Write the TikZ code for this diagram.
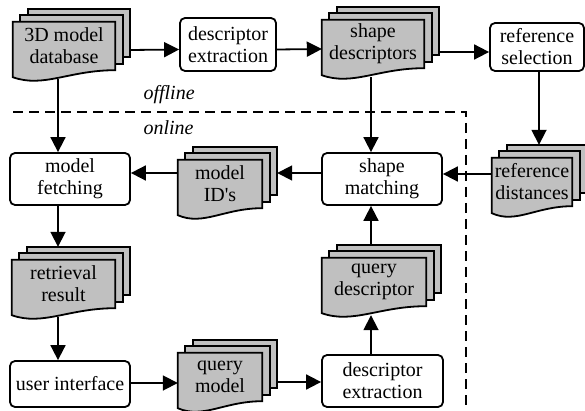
\documentclass[tikz,border=0pt]{standalone}
\usepackage{fontspec}
\setmainfont{Liberation Serif}
\usetikzlibrary{arrows.meta,calc,backgrounds}
\definecolor{pagegray}{RGB}{192,192,192}

\newcommand{\docstack}[4]{%
  \node[doc, minimum width=#3] (#1) at (#2) {#4};
  \coordinate (#1-back) at ([xshift=15pt]#1.east);
  \begin{scope}[on background layer]
    \draw[page] ([xshift=15pt,yshift=13pt]#1.south west) rectangle ([xshift=15pt,yshift=13pt]#1.north east);
    \draw[page] ([xshift=7.5pt,yshift=6.5pt]#1.south west) rectangle ([xshift=7.5pt,yshift=6.5pt]#1.north east);
    \draw[page] ([yshift=-7pt]#1.south west) -- (#1.north west) -- (#1.north east) -- (#1.south east)
      .. controls ($(#1.south west)!0.55!(#1.south east)$) and ($(#1.south west)!0.3!(#1.south east)+(0pt,-18pt)$) .. ([yshift=-7pt]#1.south west) -- cycle;
  \end{scope}}

\begin{document}
\begin{tikzpicture}[x=1pt,y=-1pt,
    every node/.style={font=\fontsize{20}{22}\selectfont},
    proc/.style={draw, line width=1.8pt, rounded corners=5pt, fill=white, align=center, inner sep=0pt},
    doc/.style={align=center, inner sep=0pt, minimum height=48pt},
    page/.style={draw, line width=1.8pt, fill=pagegray},
    arr/.style={line width=1.8pt, -{Triangle[length=15pt,width=15pt]}},
    phase/.style={font=\fontsize{20}{22}\selectfont\itshape, anchor=base west}]
\useasboundingbox (0,0) rectangle (585,411);

\node[proc, minimum width=96pt, minimum height=53pt] (descA) at (228,44.5) {descriptor\\extraction};
\node[proc, minimum width=94pt, minimum height=48pt] (refsel) at (537,47) {reference\\selection};
\node[proc, minimum width=120pt, minimum height=52pt] (match) at (382,179) {shape\\matching};
\node[proc, minimum width=120pt, minimum height=52pt] (fetch) at (70,179) {model\\fetching};
\node[proc, minimum width=120pt, minimum height=46pt] (ui) at (70,384) {user interface};
\node[proc, minimum width=121pt, minimum height=52pt] (descB) at (382.5,381) {descriptor\\extraction};

\docstack{db}{64,46}{102pt}{3D model\\database}
\docstack{sd}{373,44}{102pt}{shape\\descriptors}
\docstack{ids}{220,184}{84pt}{model\\ID\textquotesingle s}
\docstack{refd}{532,182}{80pt}{reference\\distances}
\docstack{rr}{63.5,284}{103pt}{retrieval\\result}
\docstack{qm}{220,377}{84pt}{query\\model}
\docstack{qd}{374,282}{104pt}{query\\descriptor}

\draw[line width=1.8pt, dash pattern=on 10pt off 6pt] (13,112) -- (466,112) -- (466,411);
\node[phase] (offl) at (140,100) {offline};
\node[phase] (onl) at (140,135) {online};

\draw[arr] ([yshift=-4pt]db-back) -- ([yshift=-5pt]descA.west);
\draw[arr] ([yshift=-5pt]descA.east) -- ([yshift=-5pt]sd.west);
\draw[arr] ([yshift=-8pt]sd-back) -- ([yshift=-5pt]refsel.west);
\draw[arr] ([xshift=2pt]refsel.south) -- ([xshift=7pt,yshift=13pt]refd.north);
\draw[arr] ([yshift=8pt]refd.west) -- ([yshift=5pt]match.east);
\draw[arr] ([yshift=6pt]match.west) -- ([yshift=11pt]ids-back);
\draw[arr] ([yshift=11pt]ids.west) -- ([yshift=6pt]fetch.east);
\draw[arr] ([xshift=-6pt,yshift=-9pt]db.south) -- ([xshift=-12pt]fetch.north);
\draw[arr] ([xshift=-12pt]fetch.south) -- ([xshift=-5.5pt,yshift=13pt]rr.north);
\draw[arr] ([xshift=-5.5pt,yshift=-9pt]rr.south) -- ([xshift=-12pt]ui.north);
\draw[arr] ([yshift=1pt]ui.east) -- ([yshift=-6pt]qm.west);
\draw[arr] ([yshift=-5pt]qm-back) -- ([yshift=-1pt]descB.west);
\draw[arr] ([xshift=-11.5pt]descB.north) -- ([xshift=-3pt,yshift=-9pt]qd.south);
\draw[arr] ([xshift=-3pt,yshift=13pt]qd.north) -- ([xshift=-11pt]match.south);
\draw[arr] ([xshift=-2pt,yshift=-9pt]sd.south) -- ([xshift=-11pt]match.north);
\end{tikzpicture}
\end{document}
